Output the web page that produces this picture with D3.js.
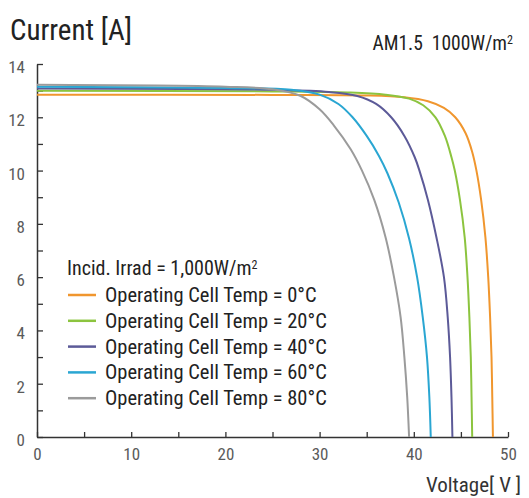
<!DOCTYPE html>
<html>
<head>
<meta charset="utf-8">
<script src="https://cdn.jsdelivr.net/npm/d3@7"></script>
<style>
  body { margin: 0; background: #fff; }
  svg { display: block; }
  text { font-family: "Liberation Sans Narrow", "Arial Narrow", "Roboto Condensed", sans-serif; }
</style>
</head>
<body>
<svg id="chart" width="529" height="498"></svg>
<script>
// datos: voltaje [V] e intensidad [A] por temperatura
var temps = ["0°C", "20°C", "40°C", "60°C", "80°C"];
var colors = ["#f0962e", "#8cc43f", "#5c5a98", "#2aa6d2", "#9b9b9b"];

var v0  = [0, 25, 35, 39, 41.5, 43.2, 44.4, 45.5, 46.2, 46.65, 47.15, 47.6, 47.9, 48.1, 48.25, 48.33, 48.4];
var i0  = [12.85, 12.84, 12.82, 12.75, 12.6, 12.35, 12.0, 11.4, 10.7, 10.0, 8.9, 7.5, 6.0, 4.5, 3.0, 1.5, 0];

var v20 = [0, 25, 33, 37, 39.5, 41, 42.3, 43.3, 44.0, 44.35, 44.9, 45.4, 45.7, 45.9, 46.05, 46.13, 46.2];
var i20 = [13.0, 12.97, 12.93, 12.85, 12.7, 12.45, 12.0, 11.3, 10.5, 10.0, 8.9, 7.5, 6.0, 4.5, 3.0, 1.5, 0];

var v40 = [0, 25, 31, 34, 36, 37.6, 39, 40.1, 40.6, 41.5, 42.4, 43.2, 43.6, 43.85, 44.0, 44.1];
var i40 = [13.08, 13.03, 12.95, 12.8, 12.5, 12.0, 11.3, 10.5, 10.0, 8.9, 7.5, 6.0, 4.5, 3.0, 1.5, 0];

var v60 = [0, 20, 27, 30, 32, 33.5, 35, 36.3, 37.2, 38.4, 39.5, 40.35, 40.95, 41.4, 41.65, 41.8];
var i60 = [13.15, 13.1, 13.03, 12.85, 12.5, 12.0, 11.3, 10.55, 9.9, 8.8, 7.45, 6.0, 4.5, 3.0, 1.5, 0];

var v80 = [0, 20, 25, 28, 30, 31.5, 33.3, 34.5, 35.8, 37.0, 37.9, 38.6, 39.0, 39.3, 39.5];
var i80 = [13.22, 13.15, 13.05, 12.8, 12.3, 11.7, 10.8, 10.0, 8.9, 7.5, 6.0, 4.5, 3.0, 1.5, 0];

var xTicks = [0, 5, 10, 15, 20, 25, 30, 35, 40, 45, 50];
var yTicks = [0, 1, 2, 3, 4, 5, 6, 7, 8, 9, 10, 11, 12, 13, 14];

var series = [
  { name: temps[0], v: v0, i: i0 },
  { name: temps[1], v: v20, i: i20 },
  { name: temps[2], v: v40, i: i40 },
  { name: temps[3], v: v60, i: i60 },
  { name: temps[4], v: v80, i: i80 }
];

var svg = d3.select("#chart");

var x = d3.scaleLinear().domain([0, 50]).range([37, 508]);
var y = d3.scaleLinear().domain([0, 14]).range([437, 64]);

// eje Y con marcas hacia dentro
var yAxis = svg.append("g")
    .attr("transform", "translate(" + x(0) + ",0)")
    .call(d3.axisLeft(y).tickValues(yTicks).tickSizeInner(-6).tickSizeOuter(0).tickPadding(12)
        .tickFormat(d => d % 2 === 0 ? d : ""));

// eje X con marcas hacia arriba
var xAxis = svg.append("g")
    .attr("transform", "translate(0," + y(0) + ")")
    .call(d3.axisBottom(x).tickValues(xTicks).tickSizeInner(-5).tickSizeOuter(0).tickPadding(11)
        .tickFormat(d => d % 10 === 0 ? d : ""));

svg.selectAll(".domain").attr("stroke", "#333").attr("stroke-width", 1.5);
svg.selectAll(".tick line").attr("stroke", "#333").attr("stroke-width", 1.3);
svg.selectAll(".tick text").attr("fill", "#5a5a5a").style("font-size", "17px")
    .style("font-family", "'Liberation Sans Narrow', 'Roboto Condensed', sans-serif");
yAxis.selectAll(".tick text").attr("dy", "0.5em");

// curvas I-V
var line = d3.line()
    .x(d => x(d[0]))
    .y(d => y(d[1]))
    .curve(d3.curveCatmullRom.alpha(0.5));

svg.selectAll(".curve")
    .data(series)
    .enter().append("path")
    .attr("class", "curve")
    .attr("fill", "none")
    .attr("stroke", (d, k) => colors[k])
    .attr("stroke-width", 2)
    .attr("d", d => line(d.v.map((vv, k) => [vv, d.i[k]])));

// titulos
svg.append("text").attr("x", 10).attr("y", 40)
    .style("font-size", "29px").attr("fill", "#222").text("Current [A]");

var am = svg.append("text").attr("x", 513).attr("y", 50).attr("text-anchor", "end")
    .style("font-size", "19.5px").attr("fill", "#222");
am.append("tspan").text("AM1.5\u00a0\u00a01000W/m");
am.append("tspan").attr("dy", -6).style("font-size", "12px").text("2");

svg.append("text").attr("x", 521).attr("y", 492).attr("text-anchor", "end")
    .style("font-size", "21px").attr("fill", "#333").text("Voltage[ V ]");

// leyenda
var leg = svg.append("g");
var t = leg.append("text").attr("x", 67).attr("y", 275)
    .style("font-size", "20px").attr("fill", "#222");
t.append("tspan").text("Incid. Irrad = 1,000W/m");
t.append("tspan").attr("dy", -6).style("font-size", "12px").text("2");

var rows = leg.selectAll(".row")
    .data(series)
    .enter().append("g")
    .attr("transform", (d, k) => "translate(0," + (295 + k * 25.8) + ")");

rows.append("line")
    .attr("x1", 68).attr("x2", 96).attr("y1", 0).attr("y2", 0)
    .attr("stroke", (d, k) => colors[k]).attr("stroke-width", 2.5);

rows.append("text")
    .attr("x", 105).attr("y", 7)
    .style("font-size", "20.5px").attr("fill", "#222")
    .text(d => "Operating Cell Temp = " + d.name);
</script>
</body>
</html>
